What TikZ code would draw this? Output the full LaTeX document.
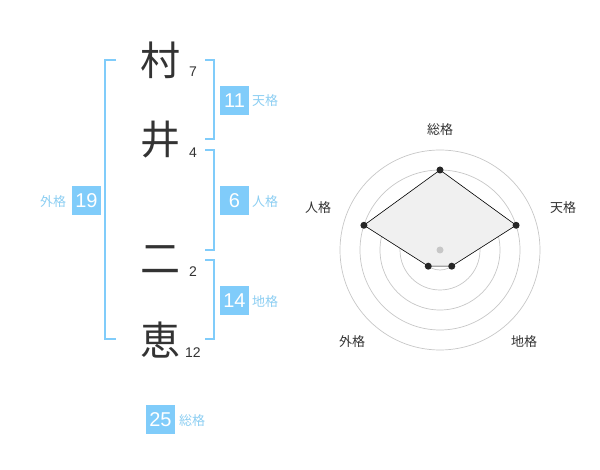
\documentclass[tikz,border=0pt]{standalone}
\usepackage{fontspec}
\setmainfont{Liberation Sans}
\newfontfamily\jp{Noto Sans CJK JP}
\usetikzlibrary{calc}
\definecolor{kakublue}{RGB}{128,204,250}
\definecolor{kakutext}{RGB}{140,206,242}
\definecolor{inkgray}{RGB}{51,51,51}

\begin{document}
\begin{tikzpicture}[x=1pt,y=-1pt,
kanji/.style ={inner sep=0, text=inkgray, font=\jp\fontsize{40}{40}\selectfont},
stroke/.style={inner sep=0, text=inkgray, font=\fontsize{14}{14}\selectfont},
score/.style={rectangle, fill=kakublue, text=white, minimum size=29pt, inner sep=0, font=\fontsize{20}{20}\selectfont},
kaku/.style={inner sep=0, text=kakutext, font=\jp\fontsize{13}{13}\selectfont},
axis/.style={inner sep=0, text=inkgray, font=\jp\fontsize{13}{13}\selectfont},
bracket/.style={draw=kakublue, line width=1.8pt},
ring/.style={draw=black!22, line width=0.7pt},
dot/.style={circle, fill=black!85, inner sep=0, minimum size=7pt}]

\useasboundingbox (0,0) rectangle (600,470);

% name
\draw (160,60) node[kanji] (K1) {村};
\draw (160,140) node[kanji] (K2) {井};
\draw (160,260) node[kanji] (K3) {二};
\draw (160,340) node[kanji] (K4) {恵};
\draw (193,72) node[stroke] (S1) {7};
\draw (193,153) node[stroke] (S2) {4};
\draw (193,272) node[stroke] (S3) {2};
\draw (193,353) node[stroke] (S4) {12};

% brackets
\draw[bracket] (116,60) -- (105,60) -- (105,339) -- (116,339);
\draw[bracket] (205,60) -- (214,60) -- (214,139) -- (205,139);
\draw[bracket] (205,150) -- (214,150) -- (214,250) -- (205,250);
\draw[bracket] (205,260) -- (214,260) -- (214,339) -- (205,339);

% scores
\draw (234.5,100.5) node[score] (Ten) {11};
\draw (234.5,200.5) node[score] (Jin) {6};
\draw (234.5,300.5) node[score] (Chi) {14};
\draw (86.5,200.5) node[score] (Gai) {19};
\draw (160.5,419.5) node[score] (Sou) {25};
\draw (265,101) node[kaku] (TenL) {天格};
\draw (265,202) node[kaku] (JinL) {人格};
\draw (265,302) node[kaku] (ChiL) {地格};
\draw (53,202) node[kaku] (GaiL) {外格};
\draw (192,421) node[kaku] (SouL) {総格};

% radar
\coordinate (C) at (440,250);
\foreach \r in {20,40,60,80,100}
  \draw[ring] (C) circle (\r pt);
\coordinate (RSou) at ($(C)+(-90:80)$);
\coordinate (RTen) at ($(C)+(-18:80)$);
\coordinate (RChi) at ($(C)+(54:20)$);
\coordinate (RGai) at ($(C)+(126:20)$);
\coordinate (RJin) at ($(C)+(-162:80)$);
\draw[fill=black!6, line width=0.6pt] (RSou) -- (RTen) -- (RChi) -- (RGai) -- (RJin) -- cycle;
\fill[black!22] (C) circle (3.5pt);
\foreach \p in {RSou,RTen,RChi,RGai,RJin}
  \node[dot] at (\p) {};
\draw (440,130) node[axis] (ASou) {総格};
\draw (563,208) node[axis] (ATen) {天格};
\draw (524,342) node[axis] (AChi) {地格};
\draw (352,342) node[axis] (AGai) {外格};
\draw (318,208) node[axis] (AJin) {人格};

\end{tikzpicture}
\end{document}
